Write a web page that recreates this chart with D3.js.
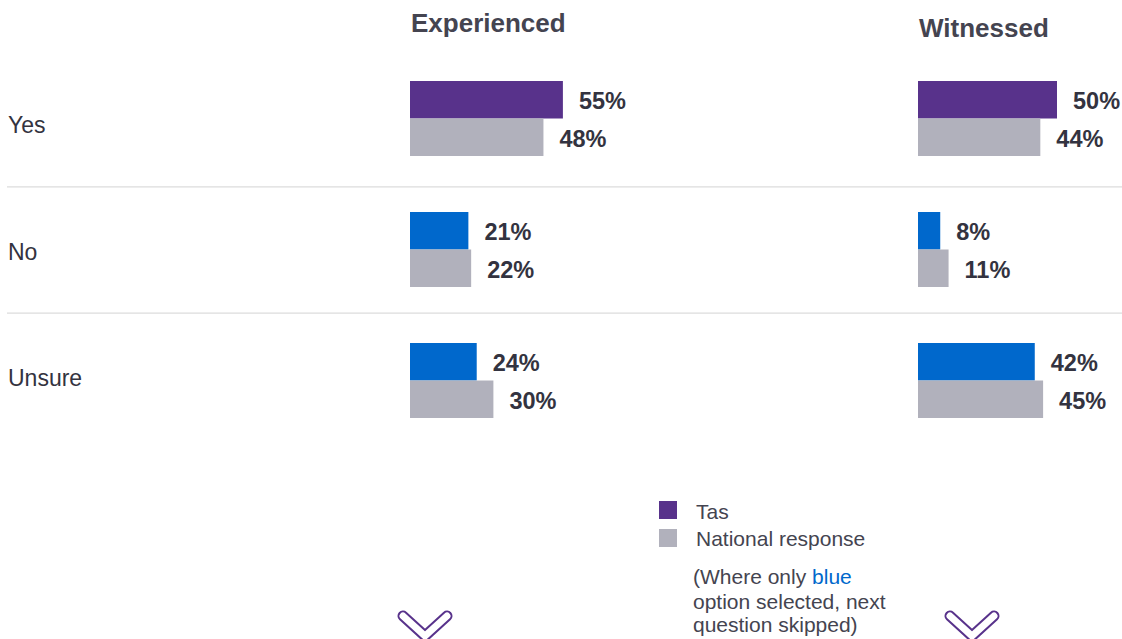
<!DOCTYPE html>
<html><head><meta charset="utf-8">
<script src="https://cdn.jsdelivr.net/npm/d3@7"></script>
<style>html,body{margin:0;padding:0;background:#fff;}svg{display:block;font-family:"Liberation Sans",Arial,sans-serif;}</style>
</head><body>
<script>
const categories = ["Yes", "No", "Unsure"];
const panels = ["Experienced", "Witnessed"];
const tasExperienced = [55, 21, 24];
const natExperienced = [48, 22, 30];
const tasWitnessed = [50, 8, 42];
const natWitnessed = [44, 11, 45];
const legendLabels = ["Tas", "National response"];

const W = 1122, H = 639;
const svg = d3.select("body").append("svg").attr("width", W).attr("height", H);

const purple = "#58328b", blue = "#0068cc", gray = "#b1b1bc", txt = "#333340";

// bar band
const y = d3.scaleBand().domain(categories).range([53, 446]);
// label/row band (separators at its boundaries)
const yRow = d3.scaleBand().domain(categories).range([60.5, 439.5]);
const x = d3.scaleLinear().domain([0, 100]).range([0, 278]);
const panelX = d3.scaleOrdinal().domain(panels).range([410, 918]);
const barH = 37.5;

// separators
const sepY = categories.slice(1).map(c => yRow(c));
svg.selectAll("line.sep").data(sepY).enter().append("line")
  .attr("x1", 7).attr("x2", W).attr("y1", d => d).attr("y2", d => d)
  .attr("stroke", "#dcdcdc").attr("stroke-width", 1.2);

// row labels
svg.selectAll("text.row").data(categories).enter().append("text")
  .attr("x", 8).attr("y", d => yRow(d) + yRow.bandwidth() / 2 + 9.5)
  .attr("font-size", 23).attr("fill", txt).text(d => d);

// headers
const headerY = { "Experienced": 32, "Witnessed": 37 };
svg.selectAll("text.hdr").data(panels).enter().append("text")
  .attr("x", d => panelX(d) + 1).attr("y", d => headerY[d])
  .attr("font-size", 26).attr("font-weight", "bold").attr("fill", "#444450").text(d => d);

const panelData = {
  "Experienced": [tasExperienced, natExperienced],
  "Witnessed": [tasWitnessed, natWitnessed]
};

panels.forEach(p => {
  const [tas, nat] = panelData[p];
  const g = svg.append("g").attr("transform", `translate(${panelX(p)},0)`);
  categories.forEach((c, i) => {
    const cy = y(c) + y.bandwidth() / 2;
    const rows = [
      { v: tas[i], top: cy - barH, color: i === 0 ? purple : blue },
      { v: nat[i], top: cy, color: gray }
    ];
    rows.forEach(r => {
      g.append("rect").attr("x", 0).attr("y", r.top)
        .attr("width", x(r.v)).attr("height", barH).attr("fill", r.color);
      g.append("text").attr("x", x(r.v) + 16).attr("y", r.top + barH / 2 + 9.5)
        .attr("font-size", 23.5).attr("font-weight", "bold").attr("fill", txt)
        .text(r.v + "%");
    });
  });
});

// legend
const lg = svg.append("g");
legendLabels.forEach((l, i) => {
  lg.append("rect").attr("x", 659).attr("y", 501 + i * 28).attr("width", 18).attr("height", 18)
    .attr("fill", i === 0 ? purple : gray);
  lg.append("text").attr("x", 696).attr("y", 518.5 + i * 27.5).attr("font-size", 21).attr("fill", "#444450").text(l);
});
const note = svg.append("text").attr("font-size", 21).attr("fill", "#444450");
const t1 = note.append("tspan").attr("x", 693).attr("y", 584);
t1.append("tspan").text("(Where only ");
t1.append("tspan").attr("fill", blue).text("blue");
note.append("tspan").attr("x", 693).attr("y", 609).text("option selected, next");
note.append("tspan").attr("x", 693).attr("y", 632).text("question skipped)");

// chevrons
[425, 972].forEach(cx => {
  const path = d3.path();
  path.moveTo(cx - 22, 616); path.lineTo(cx, 636); path.lineTo(cx + 22, 616);
  svg.append("path").attr("d", path.toString()).attr("fill", "none")
    .attr("stroke", purple).attr("stroke-width", 11).attr("stroke-linecap", "round").attr("stroke-linejoin", "round");
  svg.append("path").attr("d", path.toString()).attr("fill", "none")
    .attr("stroke", "#fff").attr("stroke-width", 7).attr("stroke-linecap", "round").attr("stroke-linejoin", "round");
});
</script>
</body></html>
